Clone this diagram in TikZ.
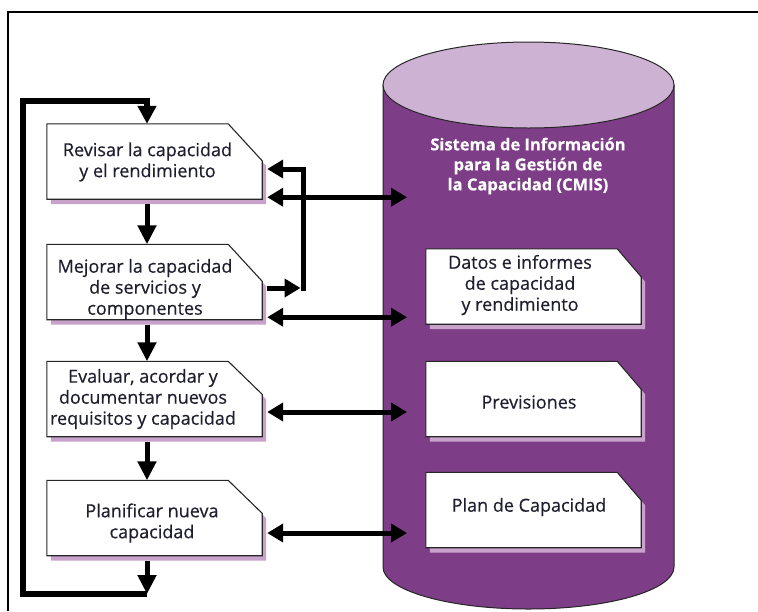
\documentclass[tikz,border=0pt]{standalone}
\usepackage{fontspec}
\setmainfont{Open Sans}[FakeBold=0.35]
\usetikzlibrary{arrows.meta}

\definecolor{cmispurple}{HTML}{7E3E87}
\definecolor{cmistop}{HTML}{CDB2D3}
\definecolor{boxshade}{HTML}{C8A2CA}
\definecolor{inkc}{HTML}{1E1E2E}

\pgfdeclarelayer{back}
\pgfdeclarelayer{boxes}
\pgfsetlayers{back,boxes,main}

% document box with a cut top-right corner and a drop shadow
% #1 node name, #2 horizontal cut, #3 vertical cut
\newcommand\docbox[3]{%
  \fill[boxshade] ([xshift=4pt,yshift=-5pt]#1.south west) -- ([xshift=4pt,yshift=-5pt]#1.north west)
    -- ([xshift=4pt-#2pt,yshift=-5pt]#1.north east) -- ([xshift=4pt,yshift=-#3pt-5pt]#1.north east)
    -- ([xshift=4pt,yshift=-5pt]#1.south east) -- cycle;
  \filldraw[fill=white, draw=black!85, line width=1.1pt] (#1.south west) -- (#1.north west)
    -- ([xshift=-#2pt]#1.north east) -- ([yshift=-#3pt]#1.north east)
    -- (#1.south east) -- cycle;
}

\begin{document}
\begin{tikzpicture}[x=1pt, y=-1pt,
  boxnode/.style={minimum width=215pt, minimum height=75pt, inner sep=0pt},
  ltext/.style={align=center, inner sep=0pt, text=inkc, font=\fontsize{18}{21}\selectfont},
  ctext/.style={align=center, inner sep=0pt, text=white, font=\fontsize{16.5}{20}\selectfont\bfseries},
  varr/.style={line width=5pt, -{Triangle[width=18pt,length=19pt]}},
  harr/.style={line width=5pt, -{Triangle[width=18pt,length=16pt]}},
  dblarr/.style={line width=5pt, {Triangle[width=18pt,length=16pt]}-{Triangle[width=18pt,length=16pt]}},
  riser/.style={line width=5pt, line join=miter, -{Triangle[width=18pt,length=16pt]}},
  loopline/.style={line width=6pt, line join=miter, -{Triangle[width=18pt,length=18pt]}},
]
\useasboundingbox (0,0) rectangle (758,611);

% outer frame
\draw[line width=1.8pt] (8,611) -- (8,12) -- (758,12);

% CMIS cylinder
\begin{pgfonlayer}{back}
  \filldraw[fill=cmispurple, draw=black!85, line width=1pt]
    (383,85) -- (383,567) arc[start angle=180, end angle=360, x radius=145.5pt, y radius=42pt]
    -- (674,85) -- cycle;
  \filldraw[fill=cmistop, draw=black!85, line width=1pt]
    (528.5,85) ellipse [x radius=145.5pt, y radius=43pt];
\end{pgfonlayer}

% process boxes (left) and store boxes (inside the cylinder)
\node[boxnode] (r1) at (154.5,161.5) {};
\node[boxnode] (r2) at (154.5,282) {};
\node[boxnode] (r3) at (154.5,399) {};
\node[boxnode] (r4) at (154.5,518) {};
\node[boxnode] (d1) at (533.5,286.5) {};
\node[boxnode] (d2) at (533.5,399) {};
\node[boxnode] (d3) at (533.5,510) {};

\begin{pgfonlayer}{boxes}
  \docbox{r1}{34}{37}
  \docbox{r2}{34}{37}
  \docbox{r3}{34}{33}
  \docbox{r4}{34}{33}
  \docbox{d1}{24}{28}
  \docbox{d2}{24}{28}
  \docbox{d3}{24}{28}
\end{pgfonlayer}

% texts
\node[ltext] (r1t) at (147.5,162) {Revisar la capacidad\\y el rendimiento};
\node[ltext] (r2t) at (145,289) {Mejorar la capacidad\\de servicios y\\componentes};
\node[ltext] (r3t) at (143,399) {Evaluar, acordar y\\documentar nuevos\\requisitos y capacidad};
\node[ltext] (r4t) at (152,523) {Planificar nueva\\capacidad};
\node[ltext] (d1t) at (520,285) {Datos e informes\\de capacidad\\y rendimiento};
\node[ltext] (d2t) at (529,402) {Previsiones};
\node[ltext] (d3t) at (529,507) {Plan de Capacidad};
\node[ctext] (cmis) at (528,166) {Sistema de Información\\para la Gestión de\\la Capacidad (CMIS)};

% helper coordinates
\coordinate (cin) at (407,0);
\coordinate (fbx) at (303.5,0);
\coordinate (lx) at (23,0);
\coordinate (ltop) at (147,101);
\coordinate (lbot) at (147,594);
\coordinate (i1) at ([xshift=5pt,yshift=-7.5pt]r1.east);
\coordinate (o2) at ([xshift=5pt,yshift=-6pt]r2.east);
\coordinate (b1) at ([xshift=5pt,yshift=2pt]r1.south east);
\coordinate (b2) at ([xshift=5pt,yshift=2.5pt]r2.south east);
\coordinate (b3) at ([xshift=5pt,yshift=-13pt]r3.east);
\coordinate (b4) at ([xshift=5pt,yshift=-15pt]r4.east);
\coordinate (rb) at (fbx |- o2);
\coordinate (rbot) at ([yshift=-2.5pt]rb);
\coordinate (o2end) at ([xshift=-3pt]rb);

% main flow
\draw[varr] ([xshift=-7.5pt,yshift=-5pt]r1.south) -- ([xshift=-7.5pt]r2.north);
\draw[varr] ([xshift=-7.5pt,yshift=-5pt]r2.south) -- ([xshift=-7.5pt]r3.north);
\draw[varr] ([xshift=-7.5pt,yshift=-5pt]r3.south) -- ([xshift=-7.5pt]r4.north);
\draw[varr] ([xshift=-7.5pt,yshift=-5pt]r4.south) -- (lbot);
\draw[loopline] (lbot) -- (lbot -| lx) -- (lx |- ltop) -- (ltop) -- ([xshift=-7.5pt]r1.north);

% feedback from improvement back to review
\draw[harr] (o2) -- (o2end);
\draw[riser] (rbot) -- (fbx |- i1) -- (i1);

% exchanges with the CMIS
\draw[dblarr] (b1) -- (b1 -| cin);
\draw[dblarr] (b2) -- (b2 -| cin);
\draw[dblarr] (b3) -- (b3 -| cin);
\draw[dblarr] (b4) -- (b4 -| cin);
\end{tikzpicture}
\end{document}
